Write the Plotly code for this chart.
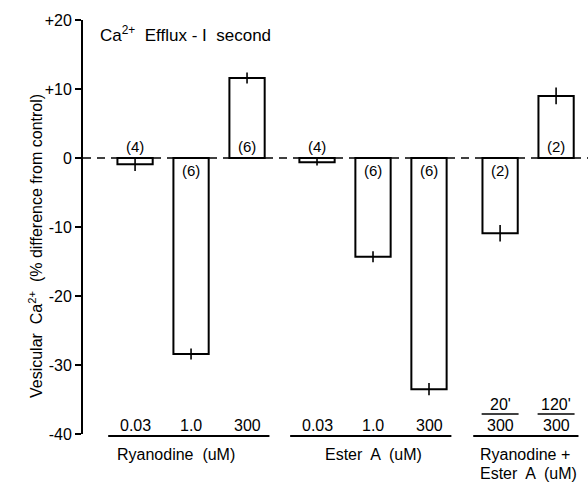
import plotly.graph_objects as go

# ---- data ----
categories = ["0.03", "1.0", "300", "0.03", "1.0", "300", "20'/300", "120'/300"]
values = [-0.9, -28.4, 11.6, -0.6, -14.3, -33.5, -10.9, 9.0]
errors = [1.0, 0.8, 0.8, 0.5, 0.8, 0.9, 1.2, 1.2]
counts = ["(4)", "(6)", "(6)", "(4)", "(6)", "(6)", "(2)", "(2)"]
x_pos = [0, 1, 2, 3.25, 4.25, 5.25, 6.52, 7.52]
group_names = ["Ryanodine  (uM)", "Ester  A  (uM)", "Ryanodine +|Ester  A  (uM)"]
group_members = [[0, 1, 2], [3, 4, 5], [6, 7]]
ytick_vals = [20, 10, 0, -10, -20, -30, -40]
ytick_text = ["+20", "+10", "0", "-10", "-20", "-30", "-40"]

FONT = "Liberation Sans, Arial, sans-serif"
fig = go.Figure()
fig.add_trace(go.Bar(
    x=x_pos, y=values, width=0.63,
    marker=dict(color="white", line=dict(color="black", width=2)),
    error_y=dict(type="data", array=errors, visible=True, color="black",
                 thickness=1.6, width=0),
    showlegend=False,
))

annotations = []
for i, (xp, v, c) in enumerate(zip(x_pos, values, counts)):
    yy = 1.7 if v > 0 or i in (0, 3) else -1.8
    annotations.append(dict(x=xp, y=yy, xref="x", yref="y", text=c, showarrow=False,
                            font=dict(size=15, family=FONT, color="black")))

shapes = []
# zero dashed line
shapes.append(dict(type="line", xref="paper", yref="y", x0=0, x1=1, y0=0, y1=0,
                   line=dict(color="black", width=1.6, dash="8px,6px"), layer="below"))

for gi, members in enumerate(group_members):
    for m in members:
        cat = categories[m]
        if "/" in cat:
            top, bot = cat.split("/")
            annotations.append(dict(x=x_pos[m], y=-35.7, xref="x", yref="y", text=top,
                                    showarrow=False, font=dict(size=16, family=FONT, color="black")))
            annotations.append(dict(x=x_pos[m], y=-38.8, xref="x", yref="y", text=bot,
                                    showarrow=False, font=dict(size=16, family=FONT, color="black")))
            shapes.append(dict(type="line", xref="x", yref="y", x0=x_pos[m] - 0.33,
                               x1=x_pos[m] + 0.33, y0=-37.1, y1=-37.1,
                               line=dict(color="black", width=1.5)))
        else:
            annotations.append(dict(x=x_pos[m], y=-38.8, xref="x", yref="y", text=cat,
                                    showarrow=False, font=dict(size=16, family=FONT, color="black")))
    x0 = x_pos[members[0]] - 0.48
    x1 = x_pos[members[-1]] + 0.4
    shapes.append(dict(type="line", xref="x", yref="paper", x0=x0, x1=x1,
                       y0=-0.005, y1=-0.005, line=dict(color="black", width=2)))

# group labels
line_y = [-0.0507, -0.0966]
annotations.append(dict(x=x_pos[0] - 0.35, y=line_y[0], xref="x", yref="paper", text=group_names[0],
                        showarrow=False, xanchor="left", yanchor="middle",
                        font=dict(size=16, family=FONT, color="black")))
annotations.append(dict(x=x_pos[4], y=line_y[0], xref="x", yref="paper", text=group_names[1],
                        showarrow=False, xanchor="center", yanchor="middle",
                        font=dict(size=16, family=FONT, color="black")))
for k, part in enumerate(group_names[2].split("|")):
    annotations.append(dict(x=x_pos[6] - 0.4, y=line_y[k], xref="x", yref="paper", text=part,
                            showarrow=False, xanchor="left", yanchor="middle",
                            font=dict(size=16, family=FONT, color="black")))

# title inside plot
annotations.append(dict(x=0.03, y=0.998, xref="paper", yref="paper",
                        text="Ca<sup>2+</sup>  Efflux - I  second", showarrow=False,
                        xanchor="left", yanchor="top",
                        font=dict(size=17, family=FONT, color="black")))
# y-axis title
annotations.append(dict(x=-0.118, y=0.455, xref="paper", yref="paper",
                        text="Vesicular  Ca<sup>2+</sup>  (% difference from control)",
                        showarrow=False, textangle=-90,
                        font=dict(size=16, family=FONT, color="black")))

fig.update_layout(
    width=588, height=484,
    margin=dict(l=83, r=0, t=20, b=50),
    paper_bgcolor="white", plot_bgcolor="white",
    annotations=annotations, shapes=shapes,
    xaxis=dict(range=[-0.93, 8.09], visible=False),
    yaxis=dict(range=[-40, 20], tickvals=ytick_vals, ticktext=ytick_text,
               showgrid=False, zeroline=False, showline=True, linecolor="black",
               linewidth=2, ticks="outside", ticklen=6, tickwidth=2, tickcolor="black",
               tickfont=dict(size=16, family=FONT, color="black")),
)
fig.write_html("out.html")
